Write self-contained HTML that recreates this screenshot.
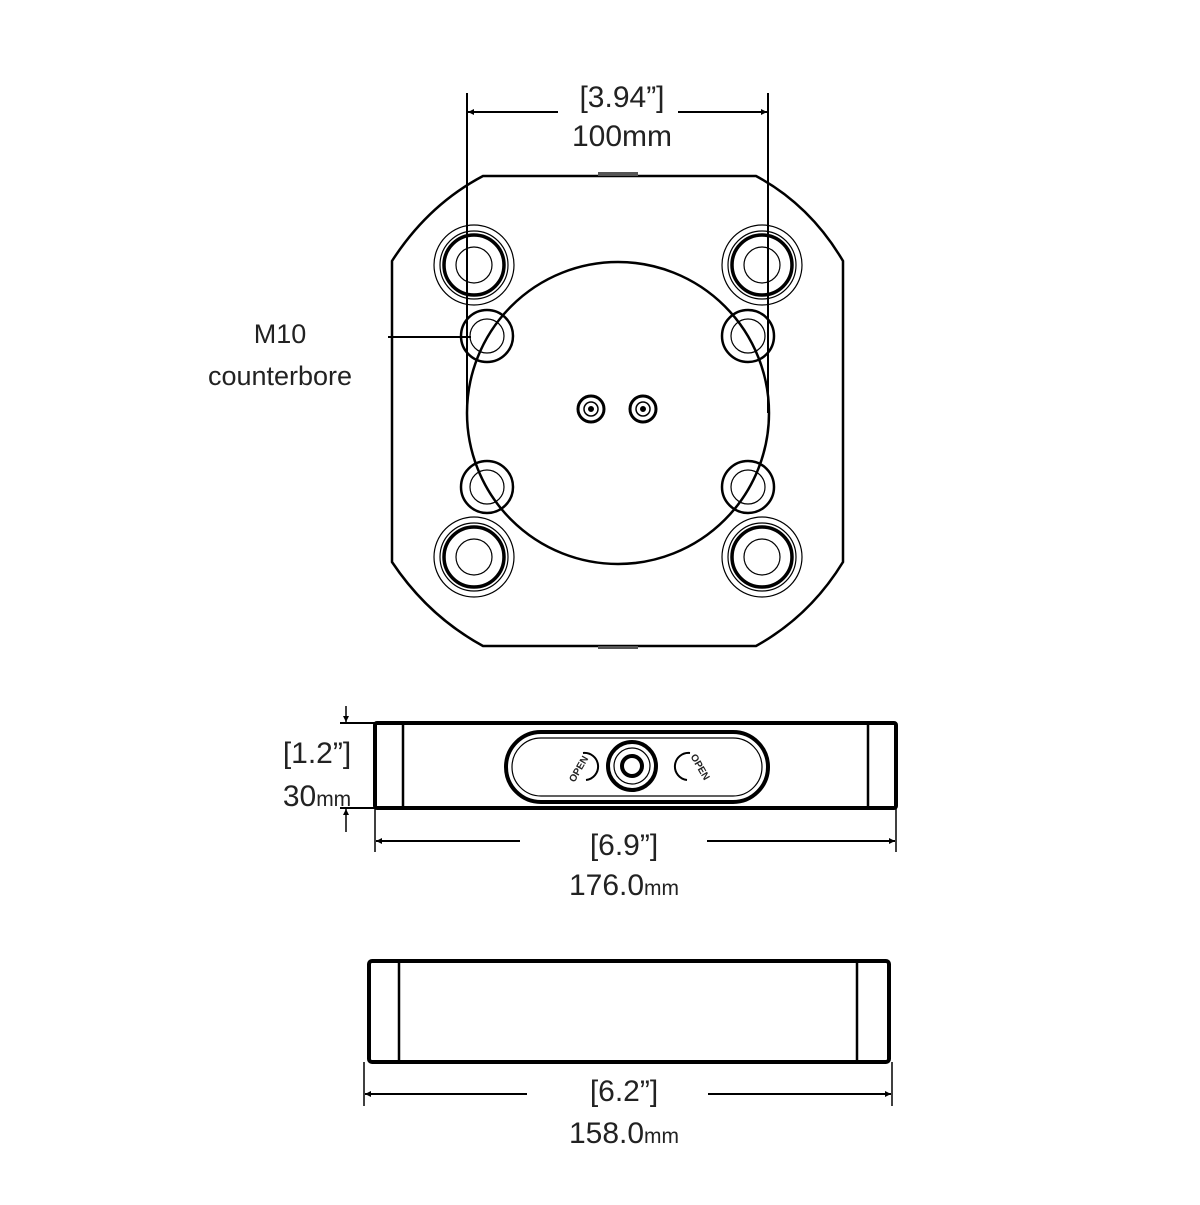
<!DOCTYPE html>
<html><head><style>
body{margin:0;background:#fff;}
svg text{font-family:"Liberation Sans",sans-serif;fill:#222;}
</style></head><body>
<svg width="1200" height="1200" viewBox="0 0 1200 1200" xmlns="http://www.w3.org/2000/svg">
<defs>
<marker id="a" viewBox="0 0 10 10" refX="10" refY="5" markerWidth="18" markerHeight="6" orient="auto-start-reverse" markerUnits="userSpaceOnUse"><path d="M0,0 L10,5 L0,10z" fill="#000"/></marker>
<g id="big" fill="none" stroke="#000">
<circle cx="0" cy="0" r="40" stroke-width="1.2"/>
<circle cx="0" cy="0" r="34" stroke-width="1.2"/>
<circle cx="0" cy="0" r="30" stroke-width="3.5"/>
<circle cx="0" cy="0" r="18" stroke-width="1.2"/>
</g>
<g id="sm" fill="none" stroke="#000">
<circle cx="0" cy="0" r="26" stroke-width="2.5"/>
<circle cx="0" cy="0" r="17" stroke-width="1.2"/>
</g>
<g id="pin" fill="none" stroke="#000"><circle cx="0" cy="0" r="13" stroke-width="3"/><circle cx="0" cy="0" r="7" stroke-width="1.5"/><circle cx="0" cy="0" r="2.5" fill="#000"/></g>
</defs>
<g fill="none" stroke="#000">
<path d="M483,176 L756,176 Q810,205 843,261 L843,562 Q810,616 756,646 L483,646 Q428,616 392,562 L392,261 Q428,205 483,176 Z" stroke-width="2.5"/>
<rect x="598" y="172" width="40" height="4" fill="#555" stroke="none"/>
<rect x="598" y="646" width="40" height="3" fill="#555" stroke="none"/>
<circle cx="618" cy="413" r="151" stroke-width="2.5"/>
<line x1="467" y1="93" x2="467" y2="413" stroke-width="2"/>
<line x1="768" y1="93" x2="768" y2="413" stroke-width="2"/>
<line x1="558" y1="112" x2="468" y2="112" stroke-width="2" marker-end="url(#a)"/>
<line x1="678" y1="112" x2="767" y2="112" stroke-width="2" marker-end="url(#a)"/>
<line x1="388" y1="337" x2="471" y2="337" stroke-width="2"/>
<use href="#big" x="474" y="265"/>
<use href="#big" x="762" y="265"/>
<use href="#big" x="474" y="557"/>
<use href="#big" x="762" y="557"/>
<use href="#sm" x="487" y="336"/>
<use href="#sm" x="748" y="336"/>
<use href="#sm" x="487" y="487"/>
<use href="#sm" x="748" y="487"/>
<use href="#pin" x="591" y="409"/>
<use href="#pin" x="643" y="409"/>
<rect x="375" y="723" width="521" height="85" rx="2" stroke-width="4"/>
<line x1="403" y1="723" x2="403" y2="808" stroke-width="2.5"/>
<line x1="868" y1="723" x2="868" y2="808" stroke-width="2.5"/>
<rect x="506" y="732" width="262" height="70" rx="35" stroke-width="4"/>
<rect x="512" y="738" width="250" height="58" rx="29" stroke-width="1.2"/>
<circle cx="632" cy="766" r="24" stroke-width="4"/>
<circle cx="632" cy="766" r="18" stroke-width="1.2"/>
<circle cx="632" cy="766" r="10" stroke-width="4"/>
<path d="M583,753 A13,13 0 1 1 586,780" stroke-width="2"/>
<path d="M690,753 A13,13 0 1 0 687,780" stroke-width="2"/>
<line x1="340" y1="723" x2="375" y2="723" stroke-width="2"/>
<line x1="340" y1="808" x2="375" y2="808" stroke-width="2"/>
<line x1="346" y1="706" x2="346" y2="722" stroke-width="1.5" marker-end="url(#a)"/>
<line x1="346" y1="832" x2="346" y2="809" stroke-width="1.5" marker-end="url(#a)"/>
<line x1="375" y1="808" x2="375" y2="852" stroke-width="1.5"/>
<line x1="896" y1="808" x2="896" y2="852" stroke-width="1.5"/>
<line x1="520" y1="841" x2="376" y2="841" stroke-width="2" marker-end="url(#a)"/>
<line x1="707" y1="841" x2="895" y2="841" stroke-width="2" marker-end="url(#a)"/>
<rect x="369" y="961" width="520" height="101" rx="3" stroke-width="4"/>
<line x1="399" y1="961" x2="399" y2="1062" stroke-width="2.5"/>
<line x1="857" y1="961" x2="857" y2="1062" stroke-width="2.5"/>
<line x1="364" y1="1062" x2="364" y2="1106" stroke-width="1.5"/>
<line x1="892" y1="1062" x2="892" y2="1106" stroke-width="1.5"/>
<line x1="527" y1="1094" x2="365" y2="1094" stroke-width="2" marker-end="url(#a)"/>
<line x1="708" y1="1094" x2="891" y2="1094" stroke-width="2" marker-end="url(#a)"/>
</g>
<g font-size="10" font-weight="bold">
<text x="560" y="782" transform="rotate(-60 568 770)">OPEN</text>
<text x="680" y="762" transform="rotate(60 690 768)">OPEN</text>
</g>
<g font-size="30" text-anchor="middle">
<text x="622" y="107">[3.94”]</text>
<text x="622" y="146">100mm</text>
<text x="280" y="343" font-size="27">M10</text>
<text x="280" y="385" font-size="27">counterbore</text>
<text x="317" y="763">[1.2”]</text>
<text x="317" y="806">30<tspan font-size="21">mm</tspan></text>
<text x="624" y="855">[6.9”]</text>
<text x="624" y="895">176.0<tspan font-size="21">mm</tspan></text>
<text x="624" y="1101">[6.2”]</text>
<text x="624" y="1143">158.0<tspan font-size="21">mm</tspan></text>
</g>
</svg>
</body></html>
